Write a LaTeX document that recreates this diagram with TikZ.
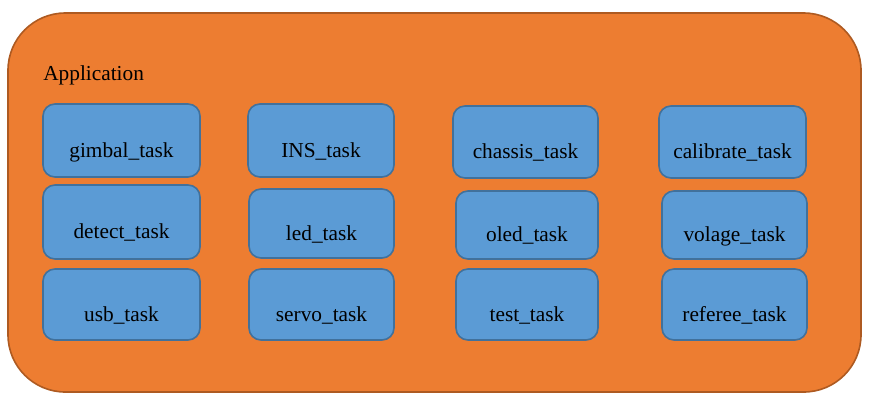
\documentclass[tikz,border=0pt]{standalone}
\usepackage{fontspec}
\setmainfont{Liberation Serif}
\definecolor{appfill}{HTML}{ED7D31}
\definecolor{appline}{HTML}{AE5A21}
\definecolor{taskfill}{HTML}{5B9BD5}
\definecolor{taskline}{HTML}{41719C}
\tikzset{
  appbox/.style={draw=appline, fill=appfill, line width=1.2pt, rounded corners=43pt},
  taskbox/.style={draw=taskline, fill=taskfill, line width=1.2pt, rounded corners=9pt,
    font=\fontsize{16}{19}\selectfont, text height=25pt, text depth=0pt, inner sep=0pt}
}
\begin{document}
\begin{tikzpicture}[x=0.75pt,y=-0.75pt]
\useasboundingbox (0,0) rectangle (871,405);
% container
\node[appbox, minimum width=639.75pt, minimum height=284.25pt] (app) at (434.5,202.5) {};
\node[anchor=base west, inner sep=0pt, font=\fontsize{16}{19}\selectfont] (apptitle) at (43,80) {Application};
% first row
\node[taskbox, minimum width=117.75pt, minimum height=54.75pt] (gimbal) at (121.5,140.5) {gimbal\_task};
\node[taskbox, minimum width=109.5pt, minimum height=54.75pt] (ins) at (321,140.5) {INS\_task};
\node[taskbox, minimum width=108.75pt, minimum height=54pt] (chassis) at (525.5,142) {chassis\_task};
\node[taskbox, minimum width=110.25pt, minimum height=54pt] (calibrate) at (732.5,142) {calibrate\_task};
% second row
\node[taskbox, minimum width=117.75pt, minimum height=55.5pt] (detect) at (121.5,222) {detect\_task};
\node[taskbox, minimum width=108.75pt, minimum height=51.75pt] (led) at (321.5,223.5) {led\_task};
\node[taskbox, minimum width=106.5pt, minimum height=51pt] (oled) at (527,225) {oled\_task};
\node[taskbox, minimum width=108.75pt, minimum height=51pt] (volage) at (734.5,225) {volage\_task};
% third row
\node[taskbox, minimum width=117.75pt, minimum height=53.25pt] (usb) at (121.5,304.5) {usb\_task};
\node[taskbox, minimum width=108.75pt, minimum height=53.25pt] (servo) at (321.5,304.5) {servo\_task};
\node[taskbox, minimum width=106.5pt, minimum height=53.25pt] (test) at (527,304.5) {test\_task};
\node[taskbox, minimum width=108.75pt, minimum height=53.25pt] (referee) at (734.5,304.5) {referee\_task};
\end{tikzpicture}
\end{document}
